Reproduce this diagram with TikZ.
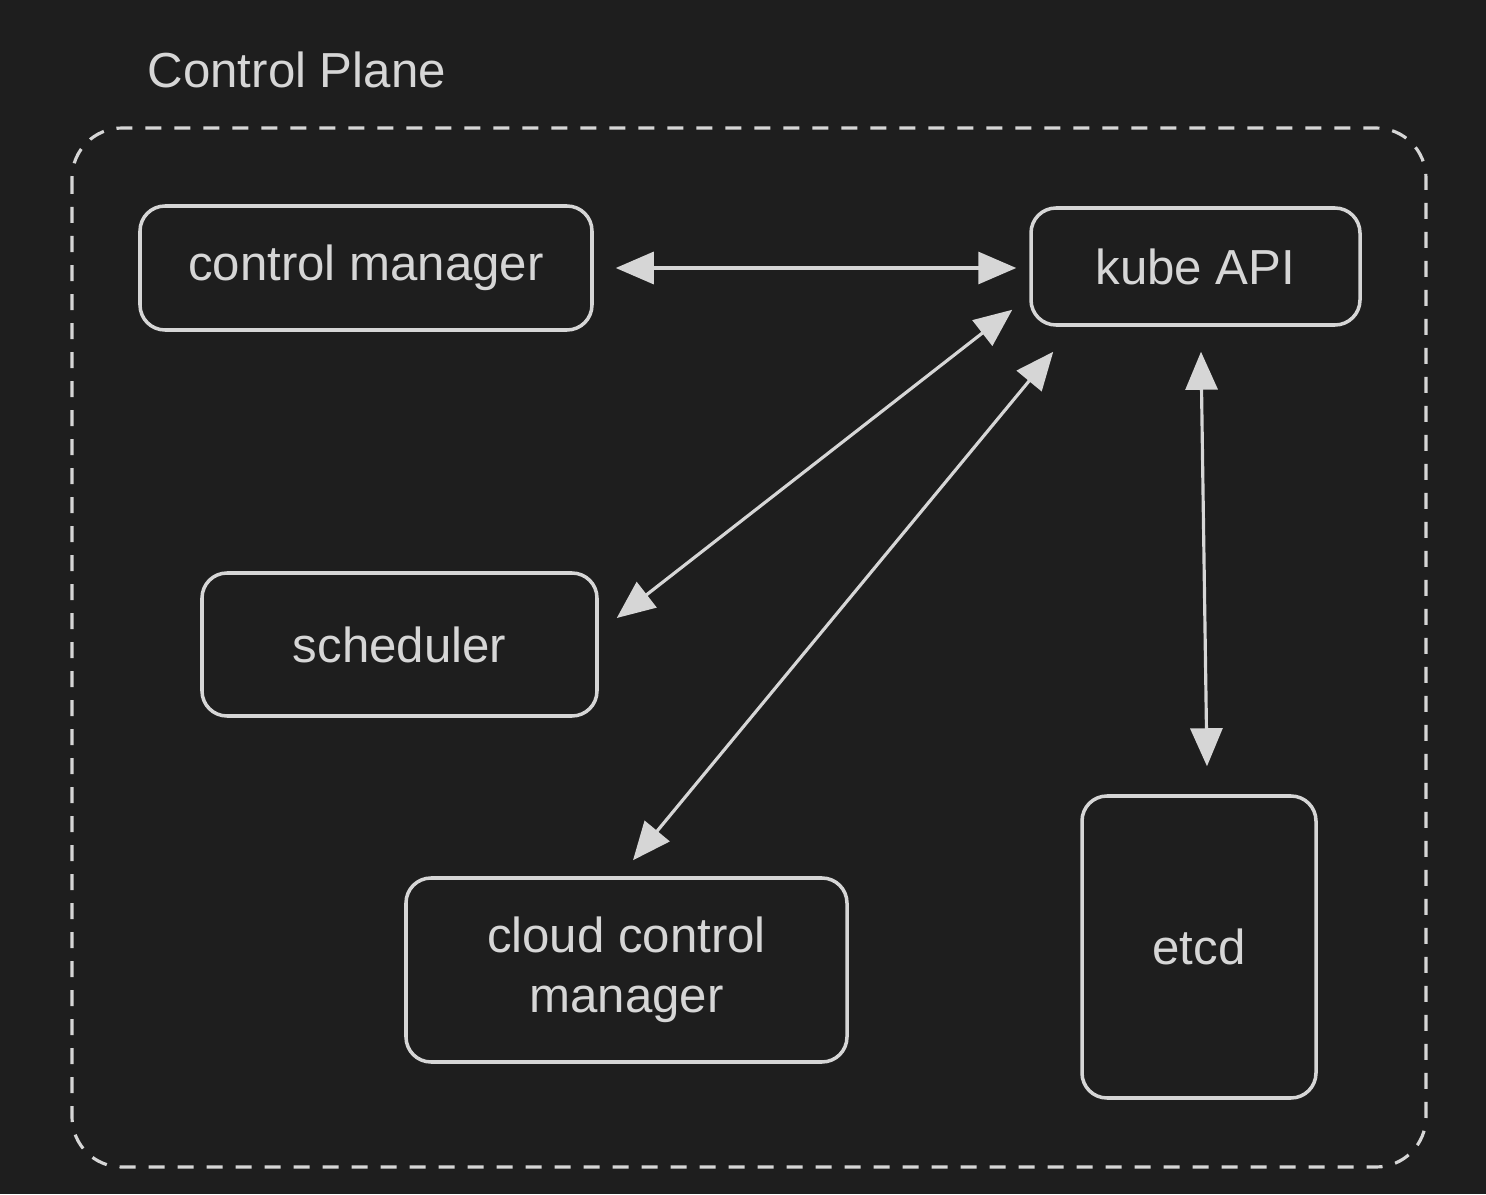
\documentclass[tikz,border=0pt]{standalone}
\usepackage{fontspec}
\usepackage{xcolor}
\usepackage{tikz}
\usetikzlibrary{arrows.meta}
\setmainfont{Liberation Sans}
\definecolor{darkbg}{RGB}{30, 30, 30}
\definecolor{chalk}{RGB}{214, 214, 214}
\tikzset{
	box/.style = {draw = chalk, line width = 1pt, rounded corners = 0.25cm, text = chalk, align = center, font = \fontsize{14}{17}\selectfont},
	biarrow/.style = {draw = chalk, line width = 0.9pt, {Triangle[length = 0.38cm, width = 0.32cm]}-{Triangle[length = 0.38cm, width = 0.32cm]}}
}

\begin{document}
\begin{tikzpicture}
	\fill[darkbg] (0,0) rectangle (14.86,11.94);
	\useasboundingbox (0,0) rectangle (14.86,11.94);
	\draw[chalk, line width = 0.9pt, dash pattern = on 0.16cm off 0.13cm, rounded corners = 0.5cm] (0.72,10.66) rectangle (14.26,0.27);
	\node (title) at (1.47,11.24) [anchor = west, text = chalk, font = \fontsize{14}{17}\selectfont, inner sep = 0pt] {Control Plane};
	\node (cm) at (3.66,9.26) [box, minimum width = 4.52cm, minimum height = 1.24cm] {control manager};
	\node (kube) at (11.955,9.275) [box, minimum width = 3.29cm, minimum height = 1.17cm] {kube API};
	\node (sched) at (3.995,5.495) [box, minimum width = 3.95cm, minimum height = 1.43cm] {scheduler};
	\node (ccm) at (6.265,2.24) [box, minimum width = 4.41cm, minimum height = 1.84cm] {cloud control\\manager};
	\node (etcd) at (11.99,2.47) [box, minimum width = 2.34cm, minimum height = 3.02cm] {etcd};
	\draw[biarrow] ([xshift = 0.22cm]cm.east) -- ([shift = {(-0.13,-0.015)}]kube.west);
	\draw[biarrow] ([shift = {(0.18,0.265)}]sched.east) -- ([shift = {(-0.17,0.17)}]kube.south west);
	\draw[biarrow] ([shift = {(0.065,0.16)}]ccm.north) -- ([shift = {(0.24,-0.25)}]kube.south west);
	\draw[biarrow] ([shift = {(0.055,-0.25)}]kube.south) -- ([shift = {(0.08,0.28)}]etcd.north);
\end{tikzpicture}
\end{document}
